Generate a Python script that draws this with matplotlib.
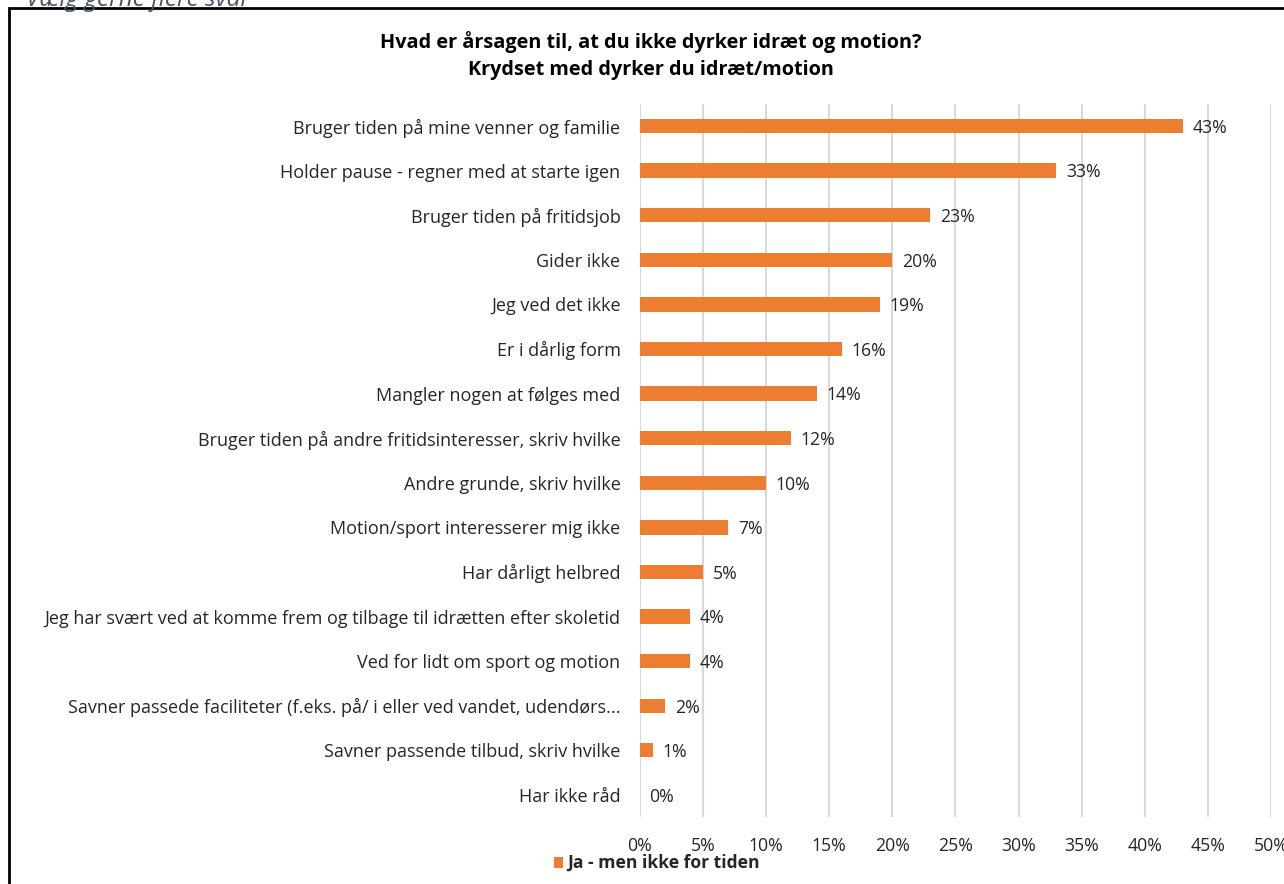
import matplotlib.pyplot as plt
from matplotlib.patches import Rectangle

# Svar for gruppen "Ja - men ikke for tiden" (procent)
kategorier = [
    'Bruger tiden på mine venner og familie',
    'Holder pause - regner med at starte igen',
    'Bruger tiden på fritidsjob',
    'Gider ikke',
    'Jeg ved det ikke',
    'Er i dårlig form',
    'Mangler nogen at følges med',
    'Bruger tiden på andre fritidsinteresser, skriv hvilke',
    'Andre grunde, skriv hvilke',
    'Motion/sport interesserer mig ikke',
    'Har dårligt helbred',
    'Jeg har svært ved at komme frem og tilbage til idrætten efter skoletid',
    'Ved for lidt om sport og motion',
    'Savner passede faciliteter (f.eks. på/ i eller ved vandet, udendørs...',
    'Savner passende tilbud, skriv hvilke',
    'Har ikke råd',
]
andel = [43, 33, 23, 20, 19, 16, 14, 12, 10, 7, 5, 4, 4, 2, 1, 0]
x_ticks = [0, 5, 10, 15, 20, 25, 30, 35, 40, 45, 50]
serie_navn = 'Ja - men ikke for tiden'

orange = '#ED7D31'
tekst = '#262626'
plt.rcParams['font.family'] = ['Open Sans', 'DejaVu Sans']

fig = plt.figure(figsize=(12.84, 8.84), dpi=100)
ax = fig.add_axes([0.4984, 0.0755, 0.4915, 0.8072])

pos = list(range(len(kategorier)))
ax.barh(pos, andel, height=0.32, color=orange, zorder=3)
for p, v in zip(pos, andel):
    ax.text(v + 0.75, p + 0.04, f'{v}%', va='center', ha='left', fontsize=12.7, color=tekst)

ax.set_xlim(0, 50)
ax.set_ylim(len(kategorier) - 0.5, -0.5)
ax.set_yticks(pos)
ax.set_yticklabels(kategorier, fontsize=13, color=tekst)
ax.set_xticks(x_ticks)
ax.set_xticklabels([f'{t}%' for t in x_ticks], fontsize=12.7, color=tekst)
ax.tick_params(axis='both', length=0)
ax.tick_params(axis='y', pad=14)
ax.tick_params(axis='x', pad=14)
ax.grid(axis='x', color='#d9d9d9', linewidth=1.5, zorder=0)
for s in ax.spines.values():
    s.set_visible(False)

fig.text(0.507, 0.952, 'Hvad er årsagen til, at du ikke dyrker idræt og motion?',
         ha='center', va='center', fontsize=14.3, fontweight='bold', color='#000000')
fig.text(0.507, 0.921, 'Krydset med dyrker du idræt/motion',
         ha='center', va='center', fontsize=14.3, fontweight='bold', color='#000000')

# forklaring under aksen
fig.patches.append(Rectangle((0.4315, 0.0185), 0.0072, 0.0115, transform=fig.transFigure,
                             facecolor=orange, edgecolor='none'))
fig.text(0.442, 0.0245, serie_navn, ha='left', va='center', fontsize=12.6,
         fontweight='bold', color=tekst)

# ramme om diagrammet
fig.patches.append(Rectangle((0.0068, -0.01), 1.1, 1.001, transform=fig.transFigure,
                             fill=False, edgecolor='#000000', linewidth=2))

# overskrift fra siden ovenover, delvist skåret af
fig.text(0.02, 1.0, 'Vælg gerne flere svar', ha='left', va='center', fontsize=17.5,
         style='italic', color='#44546A')

fig.savefig('out.png', dpi=100)
